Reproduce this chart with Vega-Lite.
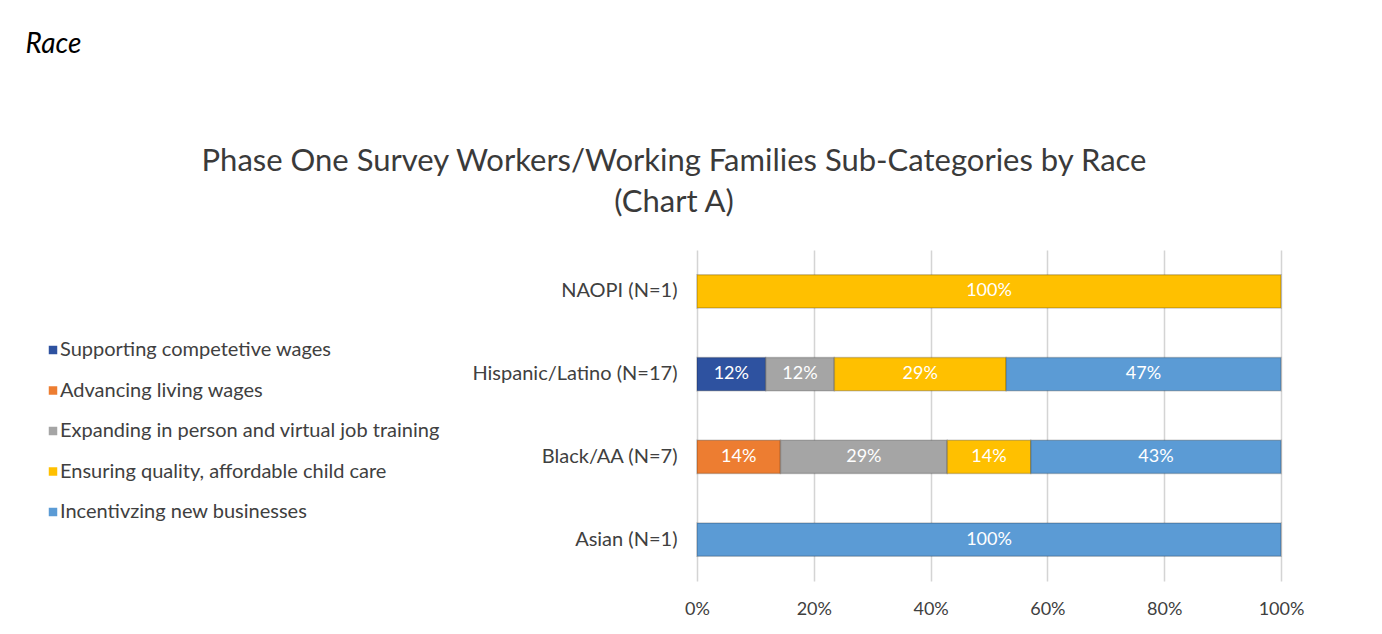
{
  "$schema": "https://vega.github.io/schema/vega-lite/v6.json",
  "width": 584,
  "height": 331,
  "autosize": {"type": "none"},
  "padding": {"left": 697, "top": 250, "right": 101, "bottom": 53},
  "background": "white",
  "config": {"view": {"stroke": null}, "font": "Lato"},
  "title": {
    "text": "Phase One Survey Workers/Working Families Sub-Categories by Race",
    "subtitle": "(Chart A)",
    "anchor": "middle",
    "frame": "group",
    "dx": -315,
    "offset": -189,
    "font": "Lato",
    "subtitleFont": "Lato",
    "fontSize": 31,
    "subtitleFontSize": 31,
    "fontWeight": "normal",
    "color": "#3a3a3a",
    "subtitleColor": "#3a3a3a",
    "subtitlePadding": 10
  },
  "data": {
    "values": [
      {"race": "NAOPI (N=1)", "category": "Ensuring quality, affordable child care", "k": 4, "share": 1.0},
      {"race": "Hispanic/Latino (N=17)", "category": "Supporting competetive wages", "k": 1, "share": 0.1176},
      {"race": "Hispanic/Latino (N=17)", "category": "Expanding in person and virtual job training", "k": 3, "share": 0.1176},
      {"race": "Hispanic/Latino (N=17)", "category": "Ensuring quality, affordable child care", "k": 4, "share": 0.2941},
      {"race": "Hispanic/Latino (N=17)", "category": "Incentivzing new businesses", "k": 5, "share": 0.4706},
      {"race": "Black/AA (N=7)", "category": "Advancing living wages", "k": 2, "share": 0.1429},
      {"race": "Black/AA (N=7)", "category": "Expanding in person and virtual job training", "k": 3, "share": 0.2857},
      {"race": "Black/AA (N=7)", "category": "Ensuring quality, affordable child care", "k": 4, "share": 0.1429},
      {"race": "Black/AA (N=7)", "category": "Incentivzing new businesses", "k": 5, "share": 0.4286},
      {"race": "Asian (N=1)", "category": "Incentivzing new businesses", "k": 5, "share": 1.0}
    ]
  },
  "encoding": {
    "y": {
      "field": "race",
      "type": "nominal",
      "sort": ["NAOPI (N=1)", "Hispanic/Latino (N=17)", "Black/AA (N=7)", "Asian (N=1)"],
      "scale": {"paddingInner": 0.6, "paddingOuter": 0.3},
      "axis": {
        "title": "Race",
        "titleAngle": 0,
        "titleX": -672,
        "titleY": -198,
        "titleAlign": "left",
        "titleBaseline": "alphabetic",
        "titleFont": "Lato",
        "titleFontStyle": "italic",
        "titleFontWeight": "normal",
        "titleFontSize": 28,
        "titleColor": "#000000",
        "labelFont": "Lato",
        "labelFontSize": 20,
        "labelColor": "#404040",
        "labelPadding": 20,
        "labelLimit": 400,
        "ticks": false,
        "domain": false,
        "grid": false
      }
    }
  },
  "layer": [
    {
      "mark": {"type": "bar", "stroke": "#000000", "strokeOpacity": 0.2, "strokeWidth": 1.5},
      "encoding": {
        "x": {
          "field": "share",
          "type": "quantitative",
          "stack": "zero",
          "scale": {"domain": [0, 1]},
          "axis": {
            "title": null,
            "format": ".0%",
            "values": [0, 0.2, 0.4, 0.6, 0.8, 1],
            "grid": true,
            "gridColor": "#d4d4d4",
            "gridWidth": 1.5,
            "domain": false,
            "ticks": false,
            "labelFlush": false,
            "labelFont": "Lato",
            "labelFontSize": 18,
            "labelColor": "#404040",
            "labelPadding": 19
          }
        },
        "color": {
          "field": "category",
          "type": "nominal",
          "scale": {
            "domain": ["Supporting competetive wages", "Advancing living wages", "Expanding in person and virtual job training", "Ensuring quality, affordable child care", "Incentivzing new businesses"],
            "range": ["#2E52A0", "#ED7D31", "#A5A5A5", "#FFC000", "#5B9BD5"]
          },
          "legend": {
            "orient": "none",
            "legendX": -654,
            "legendY": 90,
            "title": null,
            "padding": 0,
            "symbolType": "square",
            "symbolSize": 72,
            "symbolStrokeWidth": 0,
            "labelFont": "Lato",
            "labelFontSize": 20,
            "labelColor": "#404040",
            "labelOffset": -3,
            "rowPadding": 20.5,
            "labelLimit": 500
          }
        },
        "order": {"field": "k", "type": "quantitative"}
      }
    },
    {
      "mark": {"type": "text", "color": "white", "fontSize": 18, "font": "Lato"},
      "encoding": {
        "x": {"field": "share", "type": "quantitative", "stack": "zero", "bandPosition": 0.5},
        "detail": {"field": "category"},
        "order": {"field": "k", "type": "quantitative"},
        "text": {"field": "share", "type": "quantitative", "format": ".0%"}
      }
    }
  ]
}
